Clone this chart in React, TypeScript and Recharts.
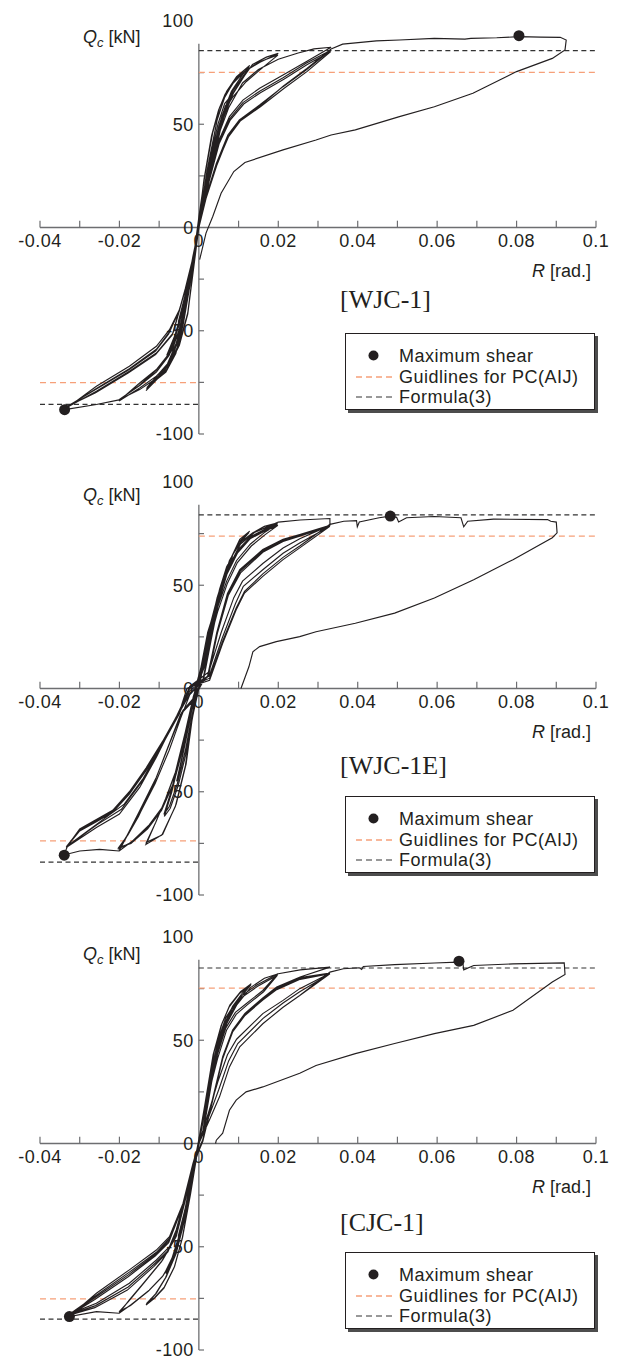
import React from 'react';
import { ComposedChart, XAxis, YAxis, Line, Scatter, ReferenceLine, ReferenceDot } from 'recharts';

type Pt = [number, number];

const INK = '#231f20';
const AXIS = '#6d6e71';
const ORANGE = '#f6a079';
const SANS = '"Liberation Sans", Arial, sans-serif';

// axis ticks (R in rad., Qc in kN)
const xTicks = [-0.04, -0.03, -0.02, -0.01, 0, 0.01, 0.02, 0.03, 0.04, 0.05, 0.06, 0.07, 0.08, 0.09, 0.1];
const xTickLabels = ['-0.04', '-0.02', '0', '0.02', '0.04', '0.06', '0.08', '0.1'];
const yTicks = [-100, -75, -50, -25, 25, 50, 75];
const yTickLabels = ['100', '50', '0', '-50', '-100'];

// ---------- WJC-1 ----------
const wjc1Small: Pt[] = [
  [0, 0], [0.0012, 13], [0.0024, 25], [0.0016, 18], [0.0005, 5], [-0.0009, -10], [-0.0024, -25], [-0.0016, -18], [-0.0005, -5], [0, 0],
  [0.0013, 14], [0.0025, 26], [0.0015, 17], [0.0004, 4], [-0.001, -11], [-0.0025, -26], [-0.0015, -17], [-0.0004, -4], [0, 0],
];
const wjc1Cyc05: Pt[] = [
  [0.0019, 19], [0.0035, 34], [0.0052, 47], [0.0041, 41], [0.0027, 30], [0.0013, 15], [0, 1],
  [-0.0017, -18], [-0.0033, -32], [-0.005, -45], [-0.0039, -39], [-0.0026, -28], [-0.0012, -13], [0, 0],
  [0.002, 19], [0.0037, 35], [0.0054, 48], [0.0042, 42], [0.0028, 31], [0.0014, 16], [0, 1],
  [-0.0018, -19], [-0.0035, -33], [-0.0052, -46], [-0.004, -40], [-0.0027, -29], [-0.0013, -14], [0, 0],
];
const wjc1Cyc08: Pt[] = [
  [0.0022, 23], [0.0042, 40], [0.006, 53], [0.008, 63.5], [0.0065, 60], [0.0048, 50], [0.0032, 36], [0.0014, 16], [0, 1],
  [-0.0021, -23], [-0.004, -40], [-0.0058, -52], [-0.008, -63], [-0.0066, -59], [-0.0049, -49], [-0.0032, -35], [-0.0014, -15], [0, 0],
  [0.0023, 23], [0.0044, 40], [0.0062, 53], [0.0081, 62.5], [0.0067, 59], [0.005, 49], [0.0034, 35], [0.0015, 15], [0, 0],
  [-0.0022, -23], [-0.0042, -40], [-0.006, -52], [-0.0081, -62], [-0.0068, -58], [-0.0051, -48], [-0.0034, -34], [-0.0015, -14], [0, 0],
];
const wjc1Cyc13: Pt[] = [
  [0.0024, 25], [0.004, 41], [0.0058, 54], [0.0082, 66], [0.011, 74], [0.0128, 78.5],
  [0.0095, 73], [0.007, 66], [0.0052, 58], [0.0035, 46], [0.0015, 25], [0, 5],
  [-0.002, -24], [-0.0037, -43], [-0.0054, -56], [-0.0075, -66], [-0.01, -72.5], [-0.0133, -79],
  [-0.0115, -75], [-0.0083, -70], [-0.0058, -61], [-0.0041, -48], [-0.0024, -29], [-0.0008, -9], [0, 0],
  [0.0025, 25], [0.0042, 41], [0.006, 54], [0.0085, 66], [0.0112, 73.5], [0.0127, 77.5],
  [0.0093, 72], [0.0068, 65], [0.005, 57], [0.0033, 45], [0.0014, 24], [0, 4],
  [-0.0021, -24], [-0.0038, -43], [-0.0056, -56], [-0.0077, -66], [-0.0102, -72], [-0.0132, -78],
  [-0.0113, -74], [-0.0081, -69], [-0.0057, -60], [-0.004, -47], [-0.0023, -28], [-0.0008, -9], [0, 0],
  [0.0026, 25], [0.0044, 41], [0.0062, 54], [0.0087, 65.5], [0.0113, 73], [0.0126, 77],
  [0.0091, 71.5], [0.0066, 64.5], [0.0049, 56.5], [0.0032, 44.5], [0.0013, 23.5], [0, 3],
  [-0.0022, -24], [-0.0039, -43], [-0.0057, -56], [-0.0079, -66], [-0.0104, -71.5], [-0.0131, -77.5],
  [-0.0111, -73.5], [-0.0079, -68.5], [-0.0056, -59.5], [-0.0039, -46.5], [-0.0022, -27.5], [-0.0008, -9], [0, 0],
];
const wjc1Cyc20: Pt[] = [
  [0.0026, 25], [0.0044, 41], [0.0063, 55], [0.0087, 65], [0.0115, 73.5], [0.0135, 79], [0.017, 82.5], [0.02, 84.3],
  [0.0154, 80], [0.0119, 76], [0.0086, 70], [0.0065, 63], [0.0046, 52], [0.002, 27], [0, 2],
  [-0.0016, -18], [-0.0032, -36.5], [-0.0049, -49.5], [-0.0074, -60.8], [-0.0107, -68.8], [-0.0149, -75.3], [-0.0201, -84],
  [-0.0149, -77.7], [-0.0107, -72], [-0.0074, -65.6], [-0.0049, -56], [-0.0028, -41.4], [-0.001, -14], [0, 0],
  [0.0028, 25], [0.0046, 40], [0.0065, 56.9], [0.0086, 63.3], [0.0119, 70.6], [0.0153, 76.2], [0.0199, 83.5],
  [0.0153, 80.3], [0.0119, 76.2], [0.0086, 69.8], [0.0065, 63.3], [0.0047, 53], [0.0022, 28], [0, 3],
  [-0.0017, -19], [-0.0033, -37], [-0.005, -50.5], [-0.0075, -62], [-0.0107, -70], [-0.0149, -76.5], [-0.0202, -83.5],
  [-0.0149, -78.5], [-0.0107, -73], [-0.0074, -66.5], [-0.0049, -57], [-0.0028, -42], [-0.001, -15], [0, 0],
];
const wjc1Cyc33: Pt[] = [
  [0.003, 28], [0.005, 45], [0.0075, 58], [0.011, 70], [0.015, 76.5], [0.02, 81.5], [0.025, 84.5], [0.029, 86.5], [0.0333, 87.3],
  [0.027, 80.3], [0.0212, 73.8], [0.0153, 67.4], [0.0111, 61.7], [0.0077, 53.7], [0.005, 42], [0.0025, 24], [0, 2],
  [-0.0016, -18], [-0.0032, -36], [-0.005, -50], [-0.0074, -61], [-0.0107, -69], [-0.015, -76.5], [-0.0201, -83.5], [-0.0258, -85.7], [-0.0338, -88.2],
  [-0.0258, -76.9], [-0.0175, -67.2], [-0.0107, -57.5], [-0.0074, -49.5], [-0.0049, -39.8], [-0.0032, -28.5], [-0.0015, -15.6], [0, 0],
  [0.0018, 15], [0.0044, 31], [0.0073, 44.8], [0.0102, 52.1], [0.0153, 59.3], [0.0212, 68.2], [0.027, 76.2], [0.0333, 86],
  [0.027, 79.5], [0.0212, 72.5], [0.0153, 66], [0.0111, 60.5], [0.0077, 52.5], [0.005, 41], [0.0025, 23], [0, 1],
  [-0.0015, -15], [-0.0033, -29], [-0.005, -41], [-0.0065, -51.1], [-0.0107, -60.8], [-0.0175, -69.6], [-0.0258, -79.3], [-0.0336, -87.5],
  [-0.0258, -78], [-0.0175, -68.4], [-0.0107, -59], [-0.0074, -50.5], [-0.005, -40.5], [-0.0032, -29], [-0.0015, -16], [0, 0],
  [0.0019, 15], [0.0046, 31], [0.0075, 44], [0.0104, 51.5], [0.0155, 58.5], [0.0214, 67.3], [0.0272, 75.5], [0.0332, 85.2],
  [0.0272, 78.8], [0.0214, 71.8], [0.0155, 65.3], [0.0113, 59.8], [0.0079, 52], [0.0051, 40.5], [0.0026, 22.5], [0, 0],
  [-0.0016, -15.5], [-0.0034, -29.5], [-0.0052, -42], [-0.0067, -52], [-0.0109, -61.5], [-0.0177, -70.3], [-0.026, -80], [-0.0335, -87],
  [-0.026, -78.5], [-0.0177, -69], [-0.0109, -59.8], [-0.0076, -51.5], [-0.0051, -41], [-0.0033, -29.5], [-0.0015, -16], [0, 0],
];
const wjc1Final: Pt[] = [
  [0.0018, 14], [0.0045, 30], [0.0074, 44], [0.0103, 51.8], [0.0155, 59], [0.0213, 68.5], [0.0272, 77], [0.0333, 86.5],
  [0.0362, 88.8], [0.0447, 90.4], [0.0505, 90.8], [0.0593, 91.6], [0.067, 91.2], [0.0685, 91.6], [0.075, 91.9], [0.0806, 92.4],
  [0.086, 92.2], [0.091, 92.1], [0.0925, 90.8], [0.0922, 86], [0.089, 81.9], [0.08, 75.5], [0.069, 65], [0.0593, 58.5],
  [0.0505, 53.7], [0.0394, 47.3], [0.0333, 44.8], [0.0295, 42.4], [0.0212, 37.6], [0.0116, 31.5], [0.0088, 27.1],
  [0.0056, 16.6], [0.0035, 5.3], [0.0018, -2.7], [0.0002, -15.6],
];
const wjc1Peaks: Pt[] = [[0.0806, 92.9], [-0.0338, -88.2]];

// ---------- WJC-1E ----------
const wjc1eSmall: Pt[] = [
  [0, 0], [0.0013, 13], [0.0026, 25], [0.0015, 15], [0.0002, 2], [-0.0014, -12], [-0.0027, -24], [-0.0016, -14], [-0.0003, -2], [0, 0],
  [0.0014, 14], [0.0027, 26], [0.0016, 16], [0.0002, 2], [-0.0015, -13], [-0.0028, -25], [-0.0017, -15], [-0.0003, -2], [0, 0],
];
const wjc1eCyc05: Pt[] = [
  [0.0018, 20], [0.0036, 35], [0.0053, 47], [0.0041, 40], [0.0026, 29], [0.0011, 14], [-0.0008, 0],
  [-0.0022, -15], [-0.0038, -30], [-0.0054, -44], [-0.0044, -38], [-0.0028, -25], [-0.0012, -10], [0, 0],
  [0.0019, 21], [0.0038, 36], [0.0055, 48], [0.0043, 41], [0.0028, 30], [0.0012, 15], [-0.0009, 0],
  [-0.0024, -16], [-0.004, -31], [-0.0056, -45], [-0.0045, -39], [-0.0029, -26], [-0.0013, -11], [0, 0],
];
const wjc1eCyc08: Pt[] = [
  [0.0022, 26], [0.0045, 42], [0.0065, 55], [0.0085, 64], [0.007, 59], [0.0052, 48], [0.0034, 32], [0.0014, 12], [-0.001, -2],
  [-0.0028, -18], [-0.0048, -34], [-0.0068, -50], [-0.0087, -62], [-0.0072, -58], [-0.0052, -47], [-0.0033, -32], [-0.0014, -12], [0, 0],
  [0.0023, 26], [0.0047, 42], [0.0067, 55], [0.0086, 63], [0.0072, 58], [0.0054, 47], [0.0036, 31], [0.0015, 11], [-0.0011, -2],
  [-0.003, -18], [-0.005, -34], [-0.007, -50], [-0.0088, -61], [-0.0074, -57], [-0.0054, -46], [-0.0035, -31], [-0.0015, -11], [0, 0],
];
const wjc1eCyc13: Pt[] = [
  [0.0022, 27], [0.0048, 43], [0.0065, 55], [0.0079, 62.4], [0.0103, 72.2], [0.0128, 76.2],
  [0.011, 72.5], [0.0088, 66], [0.0068, 57], [0.0048, 45], [0.003, 30], [0.0012, 12], [-0.0012, -3],
  [-0.0032, -20.3], [-0.0057, -39.8], [-0.0082, -52.7], [-0.0107, -64.1], [-0.0133, -75.5],
  [-0.0091, -70.6], [-0.0057, -56], [-0.0032, -36.5], [-0.0015, -12.2], [-0.0005, 0],
  [0.0021, 26], [0.0046, 42], [0.0063, 54], [0.0077, 61.5], [0.0101, 71], [0.0126, 75.5],
  [0.0108, 71.5], [0.0086, 65], [0.0066, 56], [0.0046, 44], [0.0028, 29], [0.001, 11], [-0.0014, -4],
  [-0.0034, -21], [-0.0059, -40.5], [-0.0084, -53.5], [-0.0109, -65], [-0.0132, -74.5],
  [-0.0093, -71], [-0.0059, -57], [-0.0034, -37.5], [-0.0016, -13], [0, 0],
];
const wjc1eCyc20: Pt[] = [
  [0.0022, 27], [0.0048, 43], [0.0077, 62], [0.0103, 70.5], [0.0136, 75.4], [0.0165, 78.5], [0.0199, 80.3],
  [0.0165, 77], [0.013, 73.5], [0.0098, 67], [0.0072, 57], [0.0052, 44], [0.0032, 25], [0.0012, 5], [-0.0015, -5],
  [-0.004, -10.6], [-0.0074, -26.8], [-0.0107, -43], [-0.0149, -59.2], [-0.0175, -69], [-0.0201, -78.7],
  [-0.0168, -74], [-0.0125, -66], [-0.009, -57], [-0.0062, -45], [-0.004, -29], [-0.002, -11], [-0.0005, 0],
  [0.0025, 24], [0.0045, 38], [0.007, 52], [0.0095, 62], [0.013, 70], [0.0165, 75.5], [0.0198, 79.5],
  [0.0163, 76.5], [0.0128, 73], [0.0096, 66], [0.007, 56], [0.005, 43], [0.003, 24], [0.001, 4], [-0.0017, -6],
  [-0.0043, -11.5], [-0.0077, -28], [-0.011, -44.5], [-0.015, -60.5], [-0.0177, -70], [-0.0201, -77.5],
  [-0.017, -74.5], [-0.0127, -67], [-0.0092, -58], [-0.0064, -46], [-0.0042, -30], [-0.0021, -12], [-0.0005, 0],
  [0.0027, 23], [0.0047, 37], [0.0072, 51], [0.0097, 61], [0.0132, 69], [0.0167, 74.5], [0.0199, 79],
  [0.0164, 76], [0.0129, 72.5], [0.0097, 65.5], [0.0071, 55.5], [0.0051, 42.5], [0.0031, 23.5], [0.0011, 3.5], [-0.0019, -7],
  [-0.0046, -12.5], [-0.008, -29.5], [-0.0113, -46], [-0.0152, -62], [-0.0179, -71], [-0.0202, -77],
  [-0.0171, -75], [-0.0129, -68], [-0.0094, -59], [-0.0066, -47], [-0.0044, -31], [-0.0022, -13], [0, 0],
];
const wjc1eCyc33: Pt[] = [
  [0.0024, 26], [0.005, 43], [0.0078, 60], [0.0105, 70], [0.014, 75.5], [0.0175, 78.5], [0.02, 80.6], [0.0255, 81.6], [0.033, 82.3], [0.033, 79],
  [0.0254, 74.6], [0.0212, 72.2], [0.0161, 67.3], [0.0103, 57.6], [0.0072, 46], [0.0045, 27], [0.0022, 6],
  [-0.0023, -3], [-0.0045, -14], [-0.0075, -30], [-0.011, -46], [-0.015, -61], [-0.0178, -70.5], [-0.0201, -78.7], [-0.025, -77.9], [-0.03, -78.7], [-0.034, -80.6],
  [-0.033, -76], [-0.03, -69], [-0.0258, -64.5], [-0.0217, -60], [-0.0175, -51.1], [-0.0133, -39.8], [-0.0091, -26.8], [-0.0049, -12.2], [-0.0023, 0.8],
  [0.0027, 4], [0.006, 21.9], [0.0094, 38.1], [0.0115, 46.2], [0.0161, 54.3], [0.0212, 62.4], [0.0254, 68.1], [0.033, 78.6],
  [0.0254, 73.8], [0.0212, 71.2], [0.0161, 66], [0.0105, 56], [0.0074, 45], [0.0047, 27], [0.0024, 6], [-0.0021, -2],
  [-0.0065, -17.1], [-0.0107, -33.3], [-0.0149, -47.9], [-0.02, -60.8], [-0.0258, -67.3], [-0.0334, -77],
  [-0.03, -68], [-0.0217, -59], [-0.0175, -50], [-0.0133, -38.5], [-0.0091, -25.5], [-0.0049, -11], [-0.0023, 1],
  [0.0026, 6], [0.0058, 24], [0.0092, 41], [0.0112, 49.5], [0.0161, 57.5], [0.0212, 65.5], [0.0254, 70.5], [0.033, 78.6],
  [0.0254, 74], [0.0212, 71.7], [0.0161, 66.6], [0.0104, 56.8], [0.0073, 45.5], [0.0046, 27], [0.0023, 6], [-0.0022, -1],
  [-0.006, -15], [-0.0103, -31], [-0.0145, -45.5], [-0.0195, -58.5], [-0.0255, -65.8], [-0.0334, -76.8],
  [-0.0301, -68.5], [-0.0218, -59.5], [-0.0176, -50.5], [-0.0134, -39], [-0.0092, -26], [-0.005, -11.5], [-0.0023, 1],
  [0.0025, 8], [0.0056, 27], [0.0088, 44], [0.011, 52], [0.0161, 60.5], [0.0212, 68], [0.0254, 72.5], [0.033, 79],
  [0.0254, 74.3], [0.0212, 72], [0.0161, 67], [0.0103, 57.2], [0.0072, 46], [0.0045, 27], [0.0022, 6], [-0.0023, 0],
  [-0.0055, -13], [-0.0098, -29], [-0.014, -43.5], [-0.0188, -56], [-0.0245, -64], [-0.0333, -76.5],
  [-0.0302, -69], [-0.0219, -60], [-0.0176, -51], [-0.0134, -39.5], [-0.0092, -26.5], [-0.005, -12], [-0.003, 0],
];
const wjc1eFinal: Pt[] = [
  [0.0027, 5], [0.006, 23], [0.0094, 39], [0.0115, 47], [0.0161, 55.5], [0.0212, 63.5], [0.0254, 69], [0.033, 79.5],
  [0.0365, 81], [0.0397, 81.3], [0.0399, 78.3], [0.0404, 80.6], [0.0454, 82.7], [0.0482, 83.5], [0.0498, 82.9], [0.0503, 80.6],
  [0.0523, 82.7], [0.0593, 83.3], [0.066, 82.7], [0.0667, 78.3], [0.0677, 81], [0.0742, 82], [0.0878, 81.8], [0.0886, 81],
  [0.09, 80.6], [0.0902, 75.4], [0.089, 73], [0.0791, 62.4], [0.0692, 52.7], [0.0593, 43.8], [0.0493, 36.5], [0.0394, 31.6],
  [0.0295, 27.5], [0.0254, 25.1], [0.0195, 22.7], [0.0153, 20.3], [0.0136, 17.8], [0.0126, 10.5], [0.0106, 0],
];
const wjc1ePeaks: Pt[] = [[0.0482, 83.5], [-0.0339, -80.7]];

// ---------- CJC-1 ----------
const cjc1Small: Pt[] = [
  [0, 0], [0.0012, 13], [0.0024, 26], [0.0016, 18], [0.0005, 5], [-0.0009, -10], [-0.0024, -25], [-0.0016, -18], [-0.0005, -5], [0, 0],
  [0.0013, 14], [0.0025, 27], [0.0015, 17], [0.0004, 4], [-0.001, -11], [-0.0025, -26], [-0.0015, -17], [-0.0004, -4], [0, 0],
];
const cjc1Cyc05: Pt[] = [
  [0.0018, 20], [0.0034, 35], [0.005, 48], [0.004, 42], [0.0026, 31], [0.0012, 15], [0, 1],
  [-0.0016, -16], [-0.0033, -31], [-0.005, -44], [-0.0039, -38], [-0.0026, -27], [-0.0012, -12], [0, 0],
  [0.0019, 21], [0.0036, 36], [0.0052, 49], [0.0041, 43], [0.0027, 32], [0.0013, 16], [0, 1],
  [-0.0017, -17], [-0.0035, -32], [-0.0052, -45], [-0.004, -39], [-0.0027, -28], [-0.0013, -13], [0, 0],
];
const cjc1Cyc08: Pt[] = [
  [0.0019, 22], [0.004, 41], [0.006, 55], [0.0083, 65.5], [0.0068, 61], [0.005, 51], [0.0033, 37], [0.0014, 16], [0, 1],
  [-0.0015, -13], [-0.0036, -36], [-0.0057, -52], [-0.0083, -63], [-0.0068, -58], [-0.005, -47], [-0.0032, -32], [-0.0013, -12], [0, 0],
  [0.002, 22], [0.0042, 41], [0.0062, 55], [0.0084, 64.5], [0.007, 60], [0.0052, 50], [0.0035, 36], [0.0015, 15], [0, 0],
  [-0.0016, -13], [-0.0038, -36], [-0.0059, -52], [-0.0084, -62], [-0.007, -57], [-0.0052, -46], [-0.0034, -31], [-0.0014, -11], [0, 0],
];
const cjc1Cyc13: Pt[] = [
  [0.0019, 22.6], [0.004, 41.9], [0.006, 56], [0.0085, 66.5], [0.011, 73], [0.0132, 77.4],
  [0.0105, 73.5], [0.0078, 67], [0.0058, 58], [0.0038, 44], [0.0018, 22], [0, 2],
  [-0.0015, -12.9], [-0.0036, -37.1], [-0.0057, -53.2], [-0.0082, -64.5], [-0.0107, -72.5], [-0.0133, -78.2],
  [-0.0112, -75], [-0.0088, -70], [-0.0062, -60], [-0.0042, -46], [-0.0022, -25], [0, 0],
  [0.002, 22], [0.0042, 41], [0.0062, 55], [0.0087, 65.5], [0.0112, 72.5], [0.0131, 76.8],
  [0.0103, 72.8], [0.0076, 66], [0.0056, 57], [0.0036, 43], [0.0017, 21], [0, 1],
  [-0.0016, -13.5], [-0.0037, -37.5], [-0.0059, -53.5], [-0.0084, -65], [-0.0109, -72.8], [-0.0132, -77.6],
  [-0.0111, -74.5], [-0.0087, -69.5], [-0.0061, -59.5], [-0.0041, -45.5], [-0.0021, -24.5], [0, 0],
];
const cjc1Cyc20: Pt[] = [
  [0.0022, 23], [0.0045, 42], [0.0068, 56], [0.0092, 63.5], [0.0119, 67.7], [0.0161, 74.1], [0.0199, 82.2],
  [0.0145, 76.6], [0.0103, 70.9], [0.0075, 63], [0.0052, 50], [0.003, 30], [0.001, 6], [0, 0],
  [-0.0032, -25.8], [-0.0057, -45.1], [-0.0091, -56.4], [-0.0133, -66.1], [-0.0175, -75.7], [-0.0201, -82.2],
  [-0.017, -78], [-0.0125, -71], [-0.009, -64], [-0.0062, -55], [-0.0042, -42], [-0.0022, -22], [0, 0],
  [0.0023, 23], [0.0047, 41], [0.007, 55], [0.0094, 62.5], [0.0121, 67], [0.0163, 73.5], [0.0198, 81.5],
  [0.0147, 76], [0.0105, 70.3], [0.0077, 62.5], [0.0054, 49.5], [0.0032, 29.5], [0.0011, 5.5], [0, 0],
  [-0.0034, -26.5], [-0.0059, -45.8], [-0.0094, -57.2], [-0.0136, -67], [-0.0177, -76.5], [-0.0201, -81.5],
  [-0.0172, -78.5], [-0.0127, -71.5], [-0.0092, -64.5], [-0.0064, -55.5], [-0.0044, -42.5], [-0.0023, -22.5], [0, 0],
];
const cjc1Cyc33: Pt[] = [
  [0.0022, 23], [0.0045, 42], [0.007, 58], [0.0095, 67], [0.013, 75.5], [0.0165, 80], [0.02, 82.2], [0.0255, 84.1], [0.033, 85.4],
  [0.0255, 80.6], [0.0196, 75.8], [0.0161, 70.5], [0.0116, 63], [0.0085, 55], [0.006, 42], [0.0035, 22], [0.001, 2],
  [-0.0015, -10], [-0.0035, -28], [-0.0057, -44], [-0.0091, -56.4], [-0.0133, -66.1], [-0.0175, -75.7], [-0.0201, -82.2], [-0.0258, -81.4], [-0.0326, -83.8],
  [-0.0258, -72.5], [-0.0175, -61.2], [-0.0107, -51.6], [-0.0074, -45.1], [-0.004, -29], [-0.0015, -9.7], [0, 0],
  [0.0028, 12], [0.0052, 22.6], [0.0077, 37.1], [0.0103, 46.8], [0.0161, 58], [0.0212, 66], [0.0254, 71.7], [0.033, 82.2],
  [0.0255, 79.5], [0.0196, 74.5], [0.0161, 69.5], [0.0116, 62], [0.0085, 54], [0.006, 41], [0.0035, 21], [0.001, 1],
  [-0.0015, -10.5], [-0.004, -30], [-0.0057, -41.9], [-0.0074, -50], [-0.0107, -56.4], [-0.0175, -67.7], [-0.0258, -77.4], [-0.0325, -82.5],
  [-0.0258, -73.5], [-0.0175, -62.3], [-0.0107, -52.7], [-0.0074, -46], [-0.004, -30], [-0.0015, -10.5], [0, 0],
  [0.0027, 14], [0.005, 26], [0.0075, 40], [0.0098, 48.4], [0.0161, 60.5], [0.0212, 68], [0.0254, 73.5], [0.033, 82.2],
  [0.0255, 80], [0.0196, 75], [0.0161, 70], [0.0116, 62.5], [0.0085, 54.5], [0.006, 41.5], [0.0035, 21.5], [0.001, 1.5],
  [-0.0015, -11], [-0.004, -31], [-0.0058, -43], [-0.0076, -51.5], [-0.011, -58], [-0.0178, -69.5], [-0.026, -78.5], [-0.0325, -82.8],
  [-0.026, -74.5], [-0.0177, -63.5], [-0.0108, -53.5], [-0.0075, -47], [-0.0041, -30.5], [-0.0015, -11], [0, 0],
  [0.0026, 16], [0.0048, 30], [0.0072, 43], [0.0095, 50.5], [0.0161, 62.9], [0.0212, 69.3], [0.0254, 75], [0.033, 82.5],
  [0.0255, 80.3], [0.0196, 75.3], [0.0161, 70.2], [0.0116, 62.8], [0.0085, 54.8], [0.006, 41.8], [0.0035, 21.8], [0.001, 1.8],
  [-0.0015, -11.5], [-0.0041, -31.5], [-0.0059, -44], [-0.0078, -52.5], [-0.0113, -59.5], [-0.018, -71], [-0.0262, -79.5], [-0.0324, -83],
  [-0.0262, -75.5], [-0.0178, -64.5], [-0.011, -54.5], [-0.0076, -48], [-0.0042, -31], [-0.0016, -11.5], [0, 0],
];
const cjc1Final: Pt[] = [
  [0.0028, 12], [0.0052, 22.6], [0.0077, 37.1], [0.0103, 46.8], [0.0161, 58], [0.0212, 66], [0.0254, 71.7], [0.033, 83],
  [0.0364, 84.6], [0.0404, 85.1], [0.041, 84.3], [0.0414, 85.7], [0.0493, 86.6], [0.0593, 87.4], [0.0652, 87.8], [0.0665, 87.1],
  [0.0667, 84.1], [0.0692, 86.2], [0.0791, 87], [0.092, 87.5], [0.0922, 81.9], [0.089, 78.2], [0.0791, 64.5], [0.0692, 57.2],
  [0.0593, 53.2], [0.0493, 48.4], [0.0394, 43.5], [0.0295, 37.8], [0.0254, 34], [0.0161, 27.4], [0.0119, 25], [0.0094, 21],
  [0.0077, 16.1], [0.006, 5], [0.0044, 1.6], [0.0042, 0],
];
const cjc1Peaks: Pt[] = [[0.0655, 88.3], [-0.0326, -83.8]];

// guideline levels [Formula(3), AIJ] in kN
const wjc1Levels = [85.7, 75.1];
const wjc1eLevels = [84.1, 73.8];
const cjc1Levels = [85, 75.2];

const toRows = (parts: Pt[][]) => parts.flat().map(([x, y]) => ({ x, y }));

const tickFont = { fontSize: 18, fill: INK, fontFamily: SANS, letterSpacing: 0.5 };

const renderPeak = (p: any) => <circle cx={p.cx} cy={p.cy} r={5.5} fill={INK} />;

interface PanelProps {
  top: number;
  path: { x: number; y: number }[];
  peaks: Pt[];
  levels: number[];
  title: string;
  qcDy: number;
  titleDy: number;
  legendDy: number;
}

function Panel({ top, path, peaks, levels, title, qcDy, titleDy, legendDy }: PanelProps) {
  const zero = 227.5; // y=0 inside the panel box
  const [formula, aij] = levels;
  const peakRows = peaks.map(([x, y]) => ({ x, y }));
  return (
    <div style={{ position: 'absolute', left: 0, top, width: 620, height: 451 }}>
      <ComposedChart width={620} height={451} margin={{ top: 21, right: 24, bottom: 17, left: 40 }}>
        <XAxis type="number" dataKey="x" domain={[-0.04, 0.1]} hide allowDataOverflow />
        <YAxis type="number" dataKey="y" domain={[-100, 100]} hide allowDataOverflow />

        {/* axes crossing at origin */}
        <ReferenceLine segment={[{ x: -0.04, y: 0 }, { x: 0.1, y: 0 }]} stroke={AXIS} strokeWidth={1.3} ifOverflow="visible" />
        <ReferenceLine segment={[{ x: 0, y: -100 }, { x: 0, y: 89 }]} stroke={AXIS} strokeWidth={1.3} ifOverflow="visible" />
        {xTicks.map((t) => (
          <ReferenceLine key={`xt${t}`} segment={[{ x: t, y: 0 }, { x: t, y: 3.3 }]} stroke={AXIS} strokeWidth={1.2} ifOverflow="visible" />
        ))}
        {yTicks.map((t) => (
          <ReferenceLine key={`yt${t}`} segment={[{ x: 0, y: t }, { x: 0.0013, y: t }]} stroke={AXIS} strokeWidth={1.2} ifOverflow="visible" />
        ))}
        {xTickLabels.map((s) => (
          <ReferenceDot key={`xl${s}`} x={parseFloat(s)} y={0} r={0} fill="none" stroke="none" ifOverflow="visible"
            label={{ value: s, position: 'bottom', offset: 7, ...tickFont }} />
        ))}
        {yTickLabels.map((s) => (
          <ReferenceDot key={`yl${s}`} x={0} y={parseFloat(s)} r={0} fill="none" stroke="none" ifOverflow="visible"
            label={{ value: s, position: 'left', offset: 5, ...tickFont }} />
        ))}

        {/* guideline levels */}
        <ReferenceLine segment={[{ x: 0, y: aij }, { x: 0.1, y: aij }]} stroke={ORANGE} strokeWidth={1.3} strokeDasharray="6 4" ifOverflow="visible" />
        <ReferenceLine segment={[{ x: -0.04, y: -aij }, { x: 0, y: -aij }]} stroke={ORANGE} strokeWidth={1.3} strokeDasharray="6 4" ifOverflow="visible" />
        <ReferenceLine segment={[{ x: 0, y: formula }, { x: 0.1, y: formula }]} stroke="#333" strokeWidth={1.2} strokeDasharray="5 3.5" ifOverflow="visible" />
        <ReferenceLine segment={[{ x: -0.04, y: -formula }, { x: 0, y: -formula }]} stroke="#333" strokeWidth={1.2} strokeDasharray="5 3.5" ifOverflow="visible" />

        <Line data={path} dataKey="y" type="linear" stroke={INK} strokeWidth={1.15} dot={false} activeDot={false} isAnimationActive={false} />
        <Scatter data={peakRows} dataKey="y" fill={INK} shape={renderPeak} isAnimationActive={false} />
      </ComposedChart>

      <div style={{ position: 'absolute', left: 83, top: zero + qcDy - 11, fontFamily: SANS, fontSize: 18, lineHeight: '22px', color: INK, whiteSpace: 'nowrap' }}>
        <span style={{ fontStyle: 'italic' }}>Q</span>
        <span style={{ fontStyle: 'italic', fontSize: 13, position: 'relative', top: 4 }}>c</span> [kN]
      </div>
      <div style={{ position: 'absolute', right: 29, top: zero + 43 - 11, fontFamily: SANS, fontSize: 18, lineHeight: '22px', color: INK, whiteSpace: 'nowrap' }}>
        <span style={{ fontStyle: 'italic' }}>R</span> [rad.]
      </div>
      <div style={{ position: 'absolute', left: 340, top: zero + titleDy - 15, fontFamily: '"Liberation Serif", "Times New Roman", serif', fontSize: 26, lineHeight: '30px', color: INK, whiteSpace: 'nowrap' }}>
        {title}
      </div>

      <div style={{ position: 'absolute', left: 345, top: zero + legendDy, width: 250, height: 77, boxSizing: 'border-box', border: `1px solid ${INK}`, boxShadow: '3px 3px 0 #4d4d4d', background: '#fff', fontFamily: SANS, fontSize: 18, color: INK }}>
        <svg width={50} height={77} style={{ position: 'absolute', left: 0, top: 0 }}>
          <circle cx={27.5} cy={21.5} r={5} fill={INK} />
          <line x1={10} x2={48} y1={43} y2={43} stroke={ORANGE} strokeWidth={1.3} strokeDasharray="6 4" />
          <line x1={10} x2={48} y1={63} y2={63} stroke="#333" strokeWidth={1.2} strokeDasharray="6 4" />
        </svg>
        <div style={{ position: 'absolute', left: 53, top: 11, lineHeight: '22px', letterSpacing: 0.5, whiteSpace: 'nowrap' }}>Maximum shear</div>
        <div style={{ position: 'absolute', left: 53, top: 32, lineHeight: '22px', letterSpacing: 0.5, whiteSpace: 'nowrap' }}>Guidlines for PC(AIJ)</div>
        <div style={{ position: 'absolute', left: 53, top: 52, lineHeight: '22px', letterSpacing: 0.5, whiteSpace: 'nowrap' }}>Formula(3)</div>
      </div>
    </div>
  );
}

export default function App() {
  return (
    <div style={{ position: 'absolute', left: 0, top: 0, width: 620, height: 1360, overflow: 'hidden', background: '#fff' }}>
      <Panel top={0} path={toRows([wjc1Small, wjc1Cyc05, wjc1Cyc08, wjc1Cyc13, wjc1Cyc20, wjc1Cyc33, wjc1Final])}
        peaks={wjc1Peaks} levels={wjc1Levels} title="[WJC-1]" qcDy={-191} titleDy={72} legendDy={105} />
      <Panel top={461} path={toRows([wjc1eSmall, wjc1eCyc05, wjc1eCyc08, wjc1eCyc13, wjc1eCyc20, wjc1eCyc33, wjc1eFinal])}
        peaks={wjc1ePeaks} levels={wjc1eLevels} title="[WJC-1E]" qcDy={-194} titleDy={77} legendDy={107} />
      <Panel top={916} path={toRows([cjc1Small, cjc1Cyc05, cjc1Cyc08, cjc1Cyc13, cjc1Cyc20, cjc1Cyc33, cjc1Final])}
        peaks={cjc1Peaks} levels={cjc1Levels} title="[CJC-1]" qcDy={-190} titleDy={79} legendDy={108} />
    </div>
  );
}
